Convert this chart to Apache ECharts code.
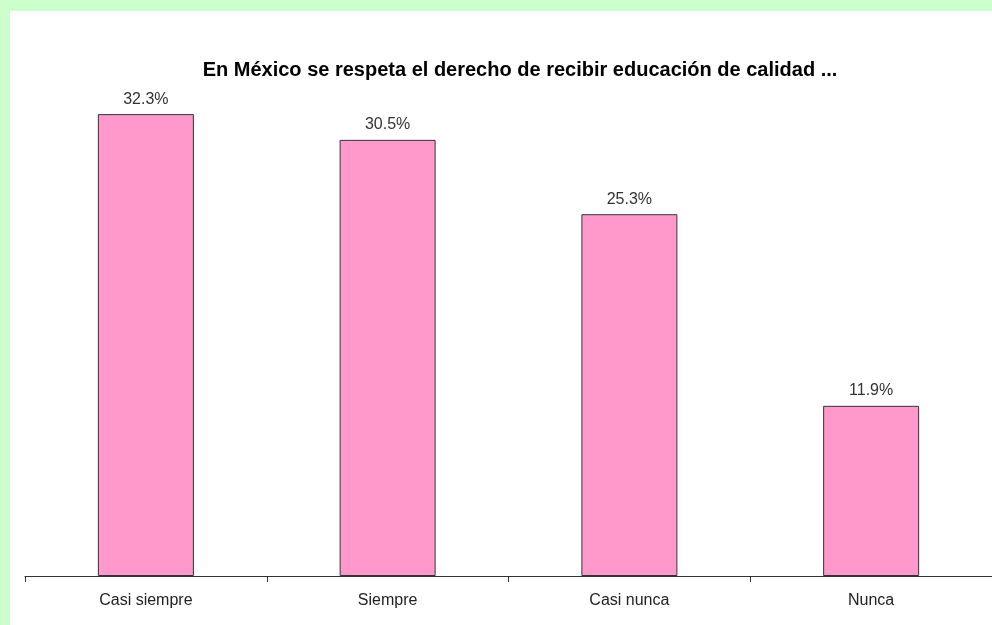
<!DOCTYPE html>
<html><head><meta charset="utf-8">
<script src="https://cdn.jsdelivr.net/npm/echarts@6/dist/echarts.min.js"></script>
<style>html,body{margin:0;padding:0;background:#CCFFCC;}#c{width:992px;height:625px;}</style>
</head><body><div id="c"></div>
<script>
const titleText = 'En México se respeta el derecho de recibir educación de calidad ...';
const categories = ['Casi siempre', 'Siempre', 'Casi nunca', 'Nunca'];
const values = [32.3, 30.5, 25.3, 11.9];

const chart = echarts.init(document.getElementById('c'));
chart.setOption({
  backgroundColor: '#CCFFCC',
  animation: false,
  graphic: [{type:'rect', left:10, top:11, shape:{width:982, height:614}, style:{fill:'#FFFFFF'}, z:-10}],
  title: {
    text: titleText, left: 515, top: 55, textAlign: 'center',
    textStyle: {fontFamily: 'Liberation Sans, Arial, sans-serif', fontWeight: 'bold', fontSize: 20, color: '#000'}
  },
  grid: {left: 25, top: 75.5, width: 970, height: 500.5},
  xAxis: {
    type: 'category', data: categories,
    axisLine: {lineStyle: {color: '#333', width: 1}},
    axisTick: {show: true, length: 6, lineStyle: {color: '#333'}},
    axisLabel: {fontFamily: 'Liberation Sans, Arial, sans-serif', fontSize: 16, color: '#222', margin: 17}
  },
  yAxis: {type: 'value', min: 0, max: 35, show: false, splitLine: {show: false}},
  series: [{
    type: 'bar', data: values, barWidth: 96,
    itemStyle: {color: '#FF99CC', borderColor: '#333', borderWidth: 1},
    label: {show: true, position: 'top', distance: 7, formatter: p => p.value.toFixed(1) + '%',
      fontFamily: 'Liberation Sans, Arial, sans-serif', fontSize: 16, color: '#333'}
  }]
});
</script></body></html>
